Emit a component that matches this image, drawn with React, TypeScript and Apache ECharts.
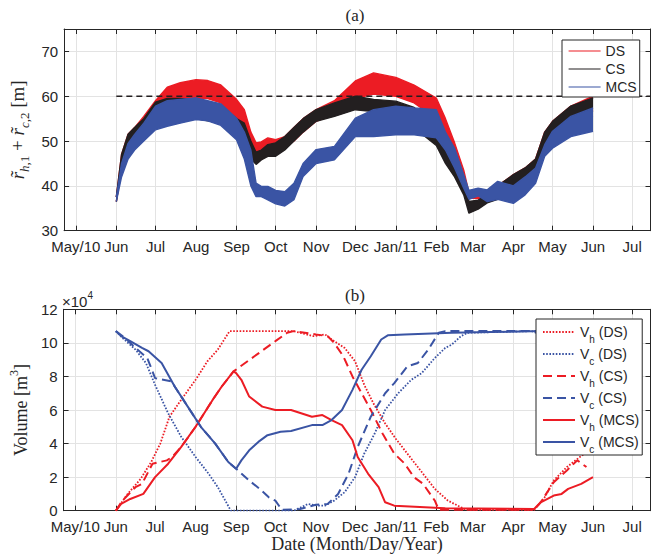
import React, { useEffect, useRef } from 'react';
import * as echarts from 'echarts';

// ---------- axis domain ----------
const axisStart = '2010-04-22';
const axisEnd = '2011-07-15';
const monthNames = ['Jan', 'Feb', 'Mar', 'Apr', 'May', 'Jun', 'Jul', 'Aug', 'Sep', 'Oct', 'Nov', 'Dec'];
const yearLabels: Record<string, string> = { '2010-05-01': 'May/10', '2011-01-01': 'Jan/11' };
const topTicks = [30, 40, 50, 60, 70];
const bottomTicks = [0, 2, 4, 6, 8, 10, 12];
const threshold = 60;
const thresholdDates = ['2010-06-01', '2011-07-15'];

// ---------- (a) bands: lower / upper envelope ----------
const bandDates = [
  '2010-06-01', '2010-06-05', '2010-06-10', '2010-06-15', '2010-06-22', '2010-07-01', '2010-07-10',
  '2010-07-20', '2010-08-01', '2010-08-10', '2010-08-20', '2010-09-01', '2010-09-07', '2010-09-12',
  '2010-09-16', '2010-09-20', '2010-09-25', '2010-10-01', '2010-10-08', '2010-10-15', '2010-10-22',
  '2010-11-01', '2010-11-15', '2010-12-01', '2010-12-15', '2011-01-01', '2011-01-15', '2011-02-01',
  '2011-02-08', '2011-02-15', '2011-02-22', '2011-02-26', '2011-03-05', '2011-03-12', '2011-03-20',
  '2011-04-01', '2011-04-10', '2011-04-18', '2011-04-25', '2011-05-01', '2011-05-15', '2011-06-01',
];
const dsLow = [36.5, 44, 48, 50, 52, 56, 58, 59, 59.5, 59.5, 58.5, 55, 53, 48, 47.5, 47.7, 48, 48, 48.5, 50, 52,
  54.4, 56, 59.5, 60.5, 60, 58.5, 55, 50, 45, 40, 37.3, 37.2, 37, 37, 38, 40, 42, 49, 51.4, 54.4, 57];
const dsHigh = [37.5, 47, 51.5, 53, 55.5, 59, 62, 63, 63.7, 63.5, 62.5, 59.3, 57, 52, 49.6, 49.8, 50.7, 50.3, 51, 53, 55,
  57, 59, 63.4, 65.2, 64.2, 62.5, 59.6, 55, 49.6, 43.5, 38.5, 37.8, 38.5, 40, 42.5, 44, 46, 52, 54.4, 57.8, 60];
const csLow = [36.5, 44, 48, 50, 52, 55, 56, 55.5, 55, 54.5, 54, 51, 49.5, 46, 44.8, 45.8, 46.6, 46.6, 48, 50, 52,
  54.4, 55.5, 57, 56.6, 55.9, 53, 49, 45, 42, 38, 33.9, 34.8, 36.2, 37, 38, 40, 42, 49, 51.4, 54.4, 56.6];
const csHigh = [37.5, 47, 51.5, 53, 55, 58.7, 59.5, 59.5, 59, 58.5, 58, 55, 54, 50, 47.5, 48, 49.2, 49.6, 51, 53, 55,
  57, 58.5, 60, 59.3, 58.9, 57.5, 53.5, 50, 46, 41, 36.5, 36.8, 38, 40, 42.5, 44, 46, 52, 54.4, 57.8, 59.6];
const mcsLow = [36.5, 42, 46, 48, 50, 52.5, 53.3, 54, 54.8, 54.5, 53.5, 50.3, 46, 40, 37.6, 37.6, 36.9, 36, 35.5, 36.9, 42.1,
  45, 45.8, 51, 51, 51.4, 51.4, 50.7, 48, 44, 39.5, 37, 37.8, 36.5, 37, 36.1, 38, 40.6, 46.6, 48.4, 51, 52.2];
const mcsHigh = [37.5, 45, 49.5, 51.5, 54, 57.8, 59, 59.3, 59.6, 59, 58.3, 55.1, 52, 48, 40.6, 39.9, 39.9, 39, 38.7, 40.6, 45,
  48.1, 48.8, 55.1, 57, 57.8, 57.4, 57, 52, 48.4, 42.5, 39, 39.5, 39.1, 41, 40, 42, 44, 49.2, 52.2, 55.5, 57.4];

// ---------- (b) volumes (x 10^4 m^3) ----------
const vhDsDates = ['2010-06-01', '2010-06-10', '2010-06-20', '2010-06-28', '2010-07-05', '2010-07-12', '2010-07-20',
  '2010-08-01', '2010-08-10', '2010-08-18', '2010-08-27', '2010-10-15', '2010-10-30', '2010-11-08', '2010-11-15',
  '2010-11-23', '2010-12-01', '2010-12-08', '2010-12-15', '2010-12-24', '2011-01-01', '2011-01-10', '2011-01-20',
  '2011-01-31', '2011-02-10', '2011-02-24', '2011-04-17', '2011-04-25', '2011-05-02', '2011-05-12', '2011-05-22', '2011-06-01'];
const vhDsValues = [0, 1.0, 1.9, 2.9, 4.0, 5.6, 6.5, 7.8, 8.9, 9.6, 10.7, 10.7, 10.4, 10.5, 10.1,
  9.7, 8.9, 7.5, 6.4, 5.2, 4.3, 3.4, 2.4, 1.3, 0.6, 0.05, 0.05, 0.8, 1.8, 2.6, 3.2, 3.8];

const vcDsDates = ['2010-06-01', '2010-06-06', '2010-06-16', '2010-06-24', '2010-07-01', '2010-07-11', '2010-07-21',
  '2010-08-01', '2010-08-11', '2010-08-18', '2010-08-28', '2010-10-15', '2010-10-26', '2010-11-03', '2010-11-08',
  '2010-11-15', '2010-11-23', '2010-12-01', '2010-12-08', '2010-12-16', '2010-12-24', '2011-01-03', '2011-01-13',
  '2011-01-21', '2011-01-31', '2011-02-08', '2011-02-13', '2011-02-20', '2011-02-25', '2011-04-15', '2011-04-22',
  '2011-05-10', '2011-06-01'];
const vcDsValues = [10.7, 10.3, 9.6, 8.8, 7.5, 5.8, 4.4, 3.2, 2.2, 1.4, 0, 0, 0.4, 0.3, 0.3,
  0.6, 1.1, 2.0, 3.4, 4.6, 6.0, 7.0, 7.8, 8.2, 9.1, 9.7, 9.9, 10.4, 10.6, 10.7, 10.5, 9.0, 7.0];

const vhCsDates = ['2010-06-01', '2010-06-06', '2010-06-16', '2010-06-21', '2010-06-29', '2010-07-10', '2010-07-14',
  '2010-07-21', '2010-08-01', '2010-08-14', '2010-08-21', '2010-08-30', '2010-09-15', '2010-10-01', '2010-10-10',
  '2010-10-15', '2010-11-01', '2010-11-10', '2010-11-15', '2010-11-22', '2010-11-29', '2010-12-06', '2010-12-13',
  '2010-12-22', '2010-12-31', '2011-01-08', '2011-01-15', '2011-01-22', '2011-01-31', '2011-02-03', '2011-04-17',
  '2011-04-22', '2011-05-02', '2011-05-12', '2011-05-20', '2011-05-27'];
const vhCsValues = [0, 0.6, 1.4, 1.6, 2.8, 3.0, 3.2, 3.8, 5.0, 6.6, 7.4, 8.3, 9.2, 10.1, 10.6,
  10.7, 10.5, 10.4, 10.0, 9.2, 8.0, 7.0, 6.0, 4.6, 3.4, 2.8, 2.0, 1.6, 0.6, 0.05, 0.05,
  0.5, 1.7, 2.4, 3.0, 2.6];

const vcCsDates = ['2010-06-01', '2010-06-08', '2010-06-16', '2010-06-25', '2010-07-01', '2010-07-14', '2010-07-16',
  '2010-07-26', '2010-08-05', '2010-08-16', '2010-08-26', '2010-09-01', '2010-09-11', '2010-09-19', '2010-09-26',
  '2010-10-01', '2010-10-06', '2010-10-20', '2010-11-01', '2010-11-10', '2010-11-18', '2010-11-26', '2010-12-03',
  '2010-12-13', '2010-12-24', '2010-12-31', '2011-01-10', '2011-01-18', '2011-01-26', '2011-02-03', '2011-02-08',
  '2011-04-25', '2011-05-15', '2011-06-01'];
const vcCsValues = [10.7, 10.3, 9.7, 9.1, 7.9, 7.7, 7.4, 6.2, 5.0, 4.0, 2.9, 2.5, 1.8, 1.3, 0.8,
  0.6, 0.05, 0.1, 0.35, 0.4, 1.0, 2.2, 3.8, 5.6, 7.0, 7.6, 8.6, 8.8, 9.6, 10.6, 10.7,
  10.7, 9.5, 8.5];

const vhMcsDates = ['2010-06-01', '2010-06-05', '2010-06-12', '2010-06-22', '2010-07-01', '2010-07-11', '2010-07-21',
  '2010-08-01', '2010-08-14', '2010-08-21', '2010-08-30', '2010-09-01', '2010-09-05', '2010-09-11', '2010-09-21',
  '2010-10-01', '2010-10-13', '2010-10-29', '2010-11-06', '2010-11-13', '2010-11-21', '2010-11-29', '2010-12-03',
  '2010-12-11', '2010-12-19', '2010-12-24', '2010-12-31', '2011-02-08', '2011-04-17', '2011-04-22', '2011-05-02',
  '2011-05-08', '2011-05-13', '2011-05-23', '2011-06-01'];
const vhMcsValues = [0, 0.4, 0.7, 1.0, 2.0, 2.8, 3.8, 5.0, 6.6, 7.4, 8.3, 8.2, 7.8, 6.8, 6.2,
  6.0, 6.0, 5.6, 5.7, 5.4, 5.1, 4.2, 3.2, 2.2, 1.4, 0.5, 0.3, 0.15, 0.1, 0.5, 0.9,
  1.0, 1.3, 1.6, 2.0];

const vcMcsDates = ['2010-06-01', '2010-06-05', '2010-06-12', '2010-06-21', '2010-06-26', '2010-07-06', '2010-07-16',
  '2010-07-26', '2010-08-05', '2010-08-16', '2010-08-26', '2010-09-01', '2010-09-05', '2010-09-11', '2010-09-18',
  '2010-09-25', '2010-10-05', '2010-10-13', '2010-10-29', '2010-11-06', '2010-11-13', '2010-11-21', '2010-11-29',
  '2010-12-06', '2010-12-13', '2010-12-21', '2010-12-26', '2011-01-08', '2011-02-13', '2011-03-15', '2011-04-25',
  '2011-06-01'];
const vcMcsValues = [10.7, 10.4, 10.1, 9.7, 9.5, 8.8, 7.4, 6.2, 5.0, 4.0, 2.9, 2.5, 3.0, 3.6, 4.1,
  4.5, 4.7, 4.75, 5.1, 5.1, 5.4, 6.0, 7.2, 8.4, 9.2, 10.2, 10.45, 10.5, 10.6, 10.65, 10.7, 10.7];

// ---------- styling ----------
const RED = '#ec1c24';
const BLACK = '#231f20';
const BLUE = '#3a54a4';
const AXIS = '#262626';
const GRID = '#e3e3e3';
const SANS = '"Liberation Sans", Arial, sans-serif';
const SERIF = '"Liberation Serif", "Times New Roman", serif';

function buildDays(start: string, end: string): string[] {
  const out: string[] = [];
  const s = Date.parse(start + 'T00:00:00Z');
  const e = Date.parse(end + 'T00:00:00Z');
  for (let t = s; t <= e; t += 86400000) out.push(new Date(t).toISOString().slice(0, 10));
  return out;
}
const days = buildDays(axisStart, axisEnd);
const isMonthStart = (_i: number, v: string) => v.endsWith('-01');
const monthLabel = (v: string) => yearLabels[v] || monthNames[parseInt(v.slice(5, 7), 10) - 1];
const pairs = (d: string[], v: number[]) => d.map((x, i) => [x, v[i]]);

function xAxes(gridIndex: number) {
  const tick = { inside: true, length: 5, interval: isMonthStart, lineStyle: { color: AXIS, width: 1 } };
  const line = { onZero: false, lineStyle: { color: AXIS, width: 1 } };
  return [
    {
      type: 'category', gridIndex, data: days, boundaryGap: false, position: 'bottom',
      axisLine: line, axisTick: tick,
      axisLabel: { interval: isMonthStart, formatter: monthLabel, color: AXIS, fontFamily: SANS, fontSize: 15, margin: 8 },
      splitLine: { show: true, interval: isMonthStart, lineStyle: { color: GRID, width: 1 } },
    },
    {
      type: 'category', gridIndex, data: days, boundaryGap: false, position: 'top',
      axisLine: line, axisTick: tick, axisLabel: { show: false }, splitLine: { show: false },
    },
  ];
}

function yAxes(gridIndex: number, ticks: number[], max: number, extra: any) {
  const min = ticks[0];
  const interval = ticks[1] - ticks[0];
  const tick = { show: true, inside: true, length: 5, lineStyle: { color: AXIS, width: 1 } };
  const line = { show: true, onZero: false, lineStyle: { color: AXIS, width: 1 } };
  return [
    {
      type: 'value', gridIndex, min, max, interval, position: 'left',
      axisLine: line, axisTick: tick,
      axisLabel: { color: AXIS, fontFamily: SANS, fontSize: 15, margin: 6, showMaxLabel: ticks[ticks.length - 1] === max },
      splitLine: { show: true, lineStyle: { color: GRID, width: 1 } },
      ...extra,
    },
    {
      type: 'value', gridIndex, min, max, interval, position: 'right',
      axisLine: line, axisTick: tick, axisLabel: { show: false }, splitLine: { show: false },
    },
  ];
}

function bandSeries(name: string, low: number[], high: number[], color: string, z: number) {
  return [
    {
      name: name + '_low', type: 'line', xAxisIndex: 0, yAxisIndex: 0, stack: name, symbol: 'none', z,
      data: pairs(bandDates, low), lineStyle: { color, width: 1.4 }, itemStyle: { color }, silent: true,
    },
    {
      name, type: 'line', xAxisIndex: 0, yAxisIndex: 0, stack: name, symbol: 'none', z,
      data: pairs(bandDates, high.map((h, i) => +(h - low[i]).toFixed(2))),
      lineStyle: { color, width: 1.4 }, itemStyle: { color }, areaStyle: { color, opacity: 1 }, silent: true,
    },
  ];
}

function volSeries(name: string, d: string[], v: number[], color: string, type: any, width: number) {
  return {
    name, type: 'line', xAxisIndex: 2, yAxisIndex: 2, symbol: 'none', data: pairs(d, v),
    lineStyle: { color, width, type }, itemStyle: { color }, silent: true,
  };
}

const DOT = [1.6, 1.6];
const DASH = [9, 5];

const LH = 26;
const legendRich = {
  v: { fontFamily: SANS, fontSize: 14, color: AXIS },
  s: { fontFamily: SANS, fontSize: 10, color: AXIS, padding: [14, 0, 0, 0] },
};

export default function App() {
  const ref = useRef<HTMLDivElement>(null);
  useEffect(() => {
    if (!ref.current) return;
    const chart = echarts.init(ref.current, null, { renderer: 'svg' });
    const option: any = {
      animation: false,
      backgroundColor: '#ffffff',
      grid: [
        { left: 61, top: 29, width: 589.5, height: 201.7, containLabel: false },
        { left: 61, top: 309.3, width: 589.5, height: 201.4, containLabel: false },
      ],
      xAxis: [
        ...xAxes(0),
        ...xAxes(1).map((a, i) => (i === 0 ? {
          ...a,
          name: 'Date (Month/Day/Year)', nameLocation: 'middle', nameGap: 24,
          nameTextStyle: { fontFamily: SERIF, fontSize: 18, color: AXIS },
        } : a)),
      ],
      yAxis: [
        ...yAxes(0, topTicks, 75, {
          name: '{i|r\u0303}{si|h}{s|,1}{t| + }{i|r\u0303}{si|c}{s|,2}{t| [m]}',
          nameLocation: 'middle', nameRotate: 90, nameGap: 23,
          nameTextStyle: {
            color: AXIS,
            rich: {
              i: { fontFamily: SERIF, fontStyle: 'italic', fontSize: 19, lineHeight: LH, verticalAlign: 'middle', color: AXIS },
              t: { fontFamily: SERIF, fontSize: 19, lineHeight: LH, verticalAlign: 'middle', color: AXIS },
              si: { fontFamily: SERIF, fontStyle: 'italic', fontSize: 13, lineHeight: LH, verticalAlign: 'bottom', color: AXIS },
              s: { fontFamily: SERIF, fontSize: 13, lineHeight: LH, verticalAlign: 'bottom', color: AXIS },
            },
          },
        }),
        ...yAxes(1, bottomTicks, 12, {
          name: '{t|Volume [m}{p|3}{t|]}',
          nameLocation: 'middle', nameRotate: 90, nameGap: 23,
          nameTextStyle: {
            color: AXIS,
            rich: {
              t: { fontFamily: SERIF, fontSize: 18, lineHeight: LH, verticalAlign: 'middle', color: AXIS },
              p: { fontFamily: SERIF, fontSize: 12, lineHeight: LH, verticalAlign: 'top', color: AXIS },
            },
          },
        }),
      ],
      legend: [
        {
          data: ['DS', 'CS', 'MCS'], orient: 'vertical', left: 562, top: 40,
          padding: [3, 3, 2, 6], itemGap: 2, itemWidth: 32, itemHeight: 14,
          backgroundColor: '#ffffff', borderColor: AXIS, borderWidth: 1, borderRadius: 0,
          itemStyle: { opacity: 0 }, lineStyle: { width: 1.2 },
          textStyle: { fontFamily: SANS, fontSize: 14, lineHeight: 16, color: AXIS },
          selectedMode: false, z: 10,
        },
        {
          data: ['Vh (DS)', 'Vc (DS)', 'Vh (CS)', 'Vc (CS)', 'Vh (MCS)', 'Vc (MCS)'],
          orient: 'vertical', left: 536, top: 319,
          padding: [6, 3, 1, 6], itemGap: 3, itemWidth: 32, itemHeight: 14,
          backgroundColor: '#ffffff', borderColor: AXIS, borderWidth: 1, borderRadius: 0,
          itemStyle: { opacity: 0 }, lineStyle: { width: 2 },
          formatter: (n: string) => `{v|V}{s|${n.charAt(1)}}{v|${n.slice(2)}}`,
          textStyle: { fontFamily: SANS, fontSize: 14, color: AXIS, rich: legendRich },
          selectedMode: false, z: 10,
        },
      ],
      graphic: [
        { type: 'text', x: 355, y: 15, style: { text: '(a)', font: `17px ${SERIF}`, fill: AXIS, align: 'center', verticalAlign: 'middle' } },
        { type: 'text', x: 355, y: 295, style: { text: '(b)', font: `17px ${SERIF}`, fill: AXIS, align: 'center', verticalAlign: 'middle' } },
        {
          type: 'text', x: 62, y: 301,
          style: {
            text: '{a|\u00d710}{b|4}', align: 'left', verticalAlign: 'middle', fill: AXIS,
            rich: {
              a: { fontFamily: SANS, fontSize: 15, lineHeight: 22, verticalAlign: 'middle', color: AXIS },
              b: { fontFamily: SANS, fontSize: 10, lineHeight: 22, verticalAlign: 'top', color: AXIS },
            },
          },
        },
      ],
      series: [
        ...bandSeries('DS', dsLow, dsHigh, RED, 2),
        ...bandSeries('CS', csLow, csHigh, BLACK, 3),
        ...bandSeries('MCS', mcsLow, mcsHigh, BLUE, 4),
        {
          name: 'threshold', type: 'line', xAxisIndex: 0, yAxisIndex: 0, symbol: 'none',
          data: thresholdDates.map((d) => [d, threshold]),
          lineStyle: { color: BLACK, width: 1.5, type: [6, 4] }, silent: true, z: 5,
        },
        volSeries('Vh (DS)', vhDsDates, vhDsValues, RED, DOT, 1.8),
        volSeries('Vc (DS)', vcDsDates, vcDsValues, BLUE, DOT, 1.8),
        volSeries('Vh (CS)', vhCsDates, vhCsValues, RED, DASH, 2),
        volSeries('Vc (CS)', vcCsDates, vcCsValues, BLUE, DASH, 2),
        volSeries('Vh (MCS)', vhMcsDates, vhMcsValues, RED, 'solid', 2),
        volSeries('Vc (MCS)', vcMcsDates, vcMcsValues, BLUE, 'solid', 2),
      ],
    };
    chart.setOption(option);
    return () => chart.dispose();
  }, []);
  return <div ref={ref} style={{ position: 'absolute', left: 0, top: 0, width: 656, height: 556 }} />;
}
